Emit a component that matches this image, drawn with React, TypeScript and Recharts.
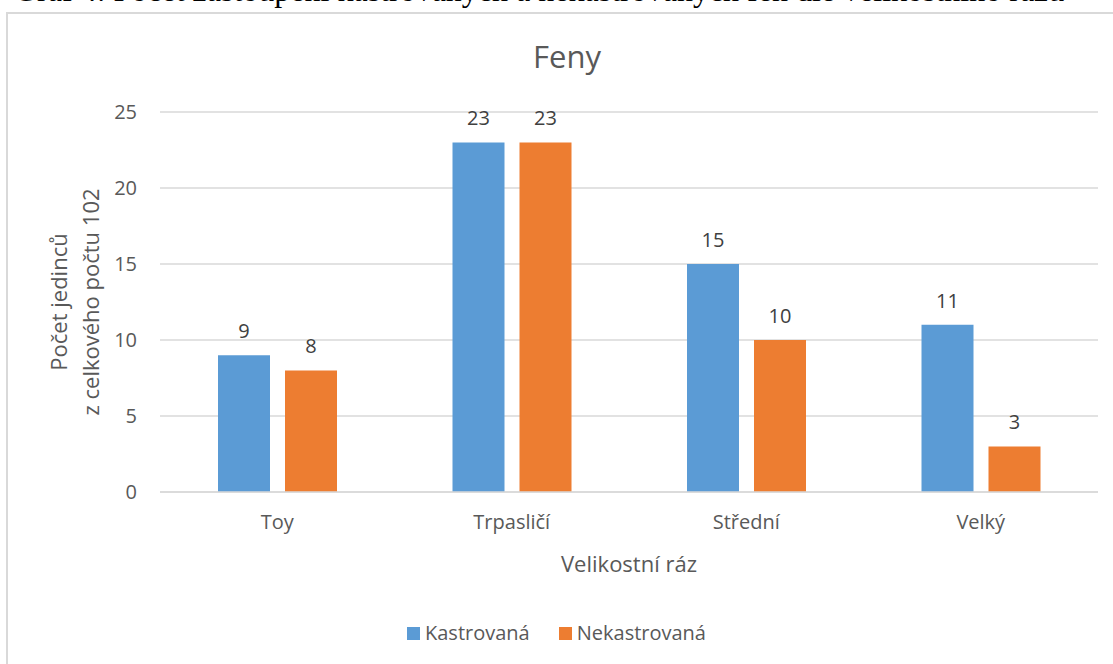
import React from "react";
import { BarChart, Bar, XAxis, YAxis, CartesianGrid, LabelList, Legend, Label } from "recharts";

const categories = ["Toy", "Trpasličí", "Střední", "Velký"];
const kastrovana = [9, 23, 15, 11];
const nekastrovana = [8, 23, 10, 3];
const yTicks = [0, 5, 10, 15, 20, 25];
const seriesNames = ["Kastrovaná", "Nekastrovaná"];
const seriesColors = ["#5B9BD5", "#ED7D31"];

const data = categories.map((c, i) => ({ name: c, k: kastrovana[i], n: nekastrovana[i] }));

const FONT = "'Open Sans', 'Noto Sans', sans-serif";
const TEXT = "#595959";

const renderYLabel = (props: any) => {
  const vb = props.viewBox || {};
  const cy = vb.y + vb.height / 2;
  return (
    <g>
      <text x={58} y={cy} transform={`rotate(-90, 58, ${cy})`} textAnchor="middle" dominantBaseline="central" fill={TEXT} fontSize={22} fontFamily={FONT}>
        Počet jedinců
      </text>
      <text x={90} y={cy} transform={`rotate(-90, 90, ${cy})`} textAnchor="middle" dominantBaseline="central" fill={TEXT} fontSize={22} fontFamily={FONT}>
        z celkového počtu 102
      </text>
    </g>
  );
};

const renderLegend = () => (
  <div style={{ display: "flex", justifyContent: "center", alignItems: "center", fontFamily: FONT, fontSize: 20, lineHeight: "28px", height: 28, color: TEXT }}>
    {seriesNames.map((s, i) => (
      <div key={s} style={{ display: "flex", alignItems: "center", marginRight: i === 0 ? 29 : 0 }}>
        <span style={{ display: "inline-block", width: 13, height: 13, background: seriesColors[i], marginRight: 5 }} />
        <span>{s}</span>
      </div>
    ))}
  </div>
);

export default function App() {
  return (
    <div style={{ position: "absolute", left: 0, top: 0, width: 1113, height: 664, overflow: "hidden", background: "#fff" }}>
      <div
        style={{
          position: "absolute",
          left: 14,
          top: 1 - 0.8375 * 32,
          fontFamily: "'Liberation Serif', 'Times New Roman', serif",
          fontSize: 32,
          lineHeight: "32px",
          whiteSpace: "nowrap",
          color: "#000",
        }}
      >
        Graf 4: Počet zastoupení kastrovaných a nekastrovaných fen dle velikostního rázu
      </div>
      <div style={{ position: "absolute", left: 6, top: 12, width: 1200, height: 700, border: "2px solid #D9D9D9", boxSizing: "border-box" }} />
      <div style={{ position: "absolute", left: 0, top: 0 }}>
        <BarChart width={1113} height={664} data={data} margin={{ top: 112, right: 15, bottom: 0, left: 0 }} barSize={52} barGap={15}>
          <text x={567} y={68} textAnchor="middle" fill={TEXT} fontSize={31} fontFamily={FONT}>
            Feny
          </text>
          <CartesianGrid vertical={false} stroke="#D9D9D9" strokeWidth={1.5} />
          <XAxis
            dataKey="name"
            axisLine={{ stroke: "#D9D9D9", strokeWidth: 1.5 }}
            tickLine={false}
            tickSize={0}
            tickMargin={23}
            tick={{ fill: TEXT, fontSize: 20, fontFamily: FONT }}
            height={144}
          >
            <Label
              content={(p: any) => {
                const vb = p.viewBox || {};
                return (
                  <text x={vb.x + vb.width / 2} y={572} textAnchor="middle" fill={TEXT} fontSize={22} fontFamily={FONT}>
                    Velikostní ráz
                  </text>
                );
              }}
            />
          </XAxis>
          <YAxis
            domain={[0, 25]}
            ticks={yTicks}
            axisLine={false}
            tickLine={false}
            tickSize={0}
            tickMargin={23}
            width={160}
            tick={{ fill: TEXT, fontSize: 20, fontFamily: FONT }}
          >
            <Label content={renderYLabel} />
          </YAxis>
          <Legend verticalAlign="bottom" align="center" content={renderLegend} wrapperStyle={{ bottom: 17, left: 0, width: 1113 }} />
          <Bar dataKey="k" name={seriesNames[0]} fill={seriesColors[0]} isAnimationActive={false}>
            <LabelList dataKey="k" position="top" offset={17} fill="#404040" fontSize={20} fontFamily={FONT} />
          </Bar>
          <Bar dataKey="n" name={seriesNames[1]} fill={seriesColors[1]} isAnimationActive={false}>
            <LabelList dataKey="n" position="top" offset={17} fill="#404040" fontSize={20} fontFamily={FONT} />
          </Bar>
        </BarChart>
      </div>
    </div>
  );
}
